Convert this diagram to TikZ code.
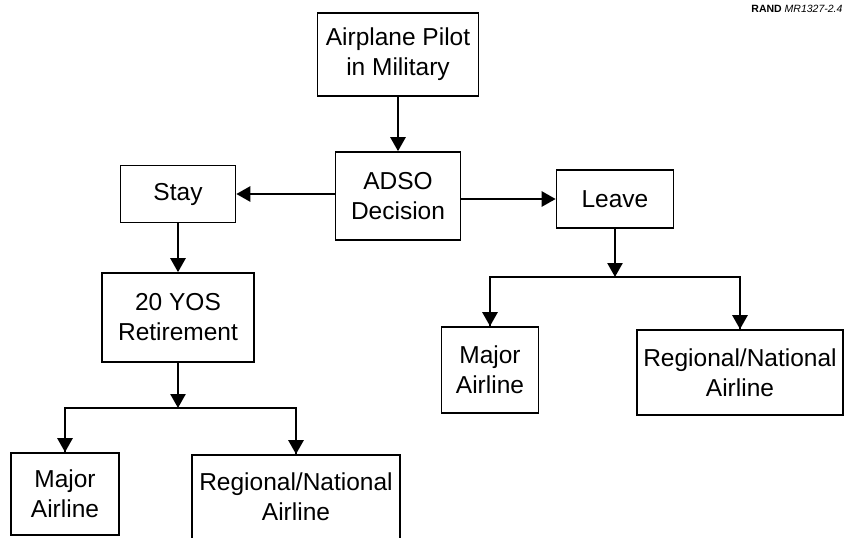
\documentclass[tikz,border=0pt]{standalone}
\usepackage{fontspec}
\setmainfont{Liberation Sans}
\usetikzlibrary{arrows.meta, positioning}

\begin{document}
\begin{tikzpicture}[x=1pt, y=-1pt,
  box/.style={draw, line width=1.6pt, align=center, inner sep=2pt,
    font=\fontsize{24.5}{30}\selectfont},
  link/.style={line width=2.5pt, -{Triangle[width=15pt,length=14pt]}},
  bus/.style={line width=2.5pt}]
  \useasboundingbox (0,0) rectangle (847,538);
  \node[anchor=east, font=\fontsize{10.5}{12}\selectfont] (tag) at (846,9)
    {\textbf{RAND} \textit{MR1327-2.4}};
  % top of the tree
  \node[box, minimum width=161pt, minimum height=83pt] (pilot) at (398,54.5) {Airplane Pilot\\in Military};
  \node[box, minimum width=125pt, minimum height=88pt] (adso) at (398,196) {ADSO\\Decision};
  \node[box, minimum width=115pt, minimum height=57pt] (stay) at (178,194) {Stay};
  \node[box, minimum width=117pt, minimum height=58pt] (leave) at (615,199) {Leave};
  % stay branch
  \node[box, minimum width=152pt, minimum height=89pt] (retire) at (178,317.5) {20 YOS\\Retirement};
  \node[box, minimum width=108pt, minimum height=82pt] (majorL) at (65,494) {Major\\Airline};
  \node[box, minimum width=208pt, minimum height=84pt] (regionalL) at (296,497) {Regional/National\\Airline};
  % leave branch
  \node[box, minimum width=97pt, minimum height=86pt] (majorR) at (490,370) {Major\\Airline};
  \node[box, minimum width=206pt, minimum height=85pt] (regionalR) at (740,372.5) {Regional/National\\Airline};

  \coordinate (busL) at (178,408);
  \coordinate (busR) at (615,277);

  \draw[link] (pilot) -- (adso);
  \draw[link] (adso.west |- stay.east) -- (stay.east);
  \draw[link] (adso.east |- leave.west) -- (leave.west);
  \draw[link] (stay) -- (retire);
  \draw[link] (retire) -- (busL);
  \draw[bus] (busL) -| (majorL.north);
  \draw[bus] (busL) -| (regionalL.north);
  \draw[link] (majorL.north |- busL) -- (majorL.north);
  \draw[link] (regionalL.north |- busL) -- (regionalL.north);
  \draw[link] (leave) -- (busR);
  \draw[bus] (busR) -| (majorR.north);
  \draw[bus] (busR) -| (regionalR.north);
  \draw[link] (majorR.north |- busR) -- (majorR.north);
  \draw[link] (regionalR.north |- busR) -- (regionalR.north);
\end{tikzpicture}
\end{document}
